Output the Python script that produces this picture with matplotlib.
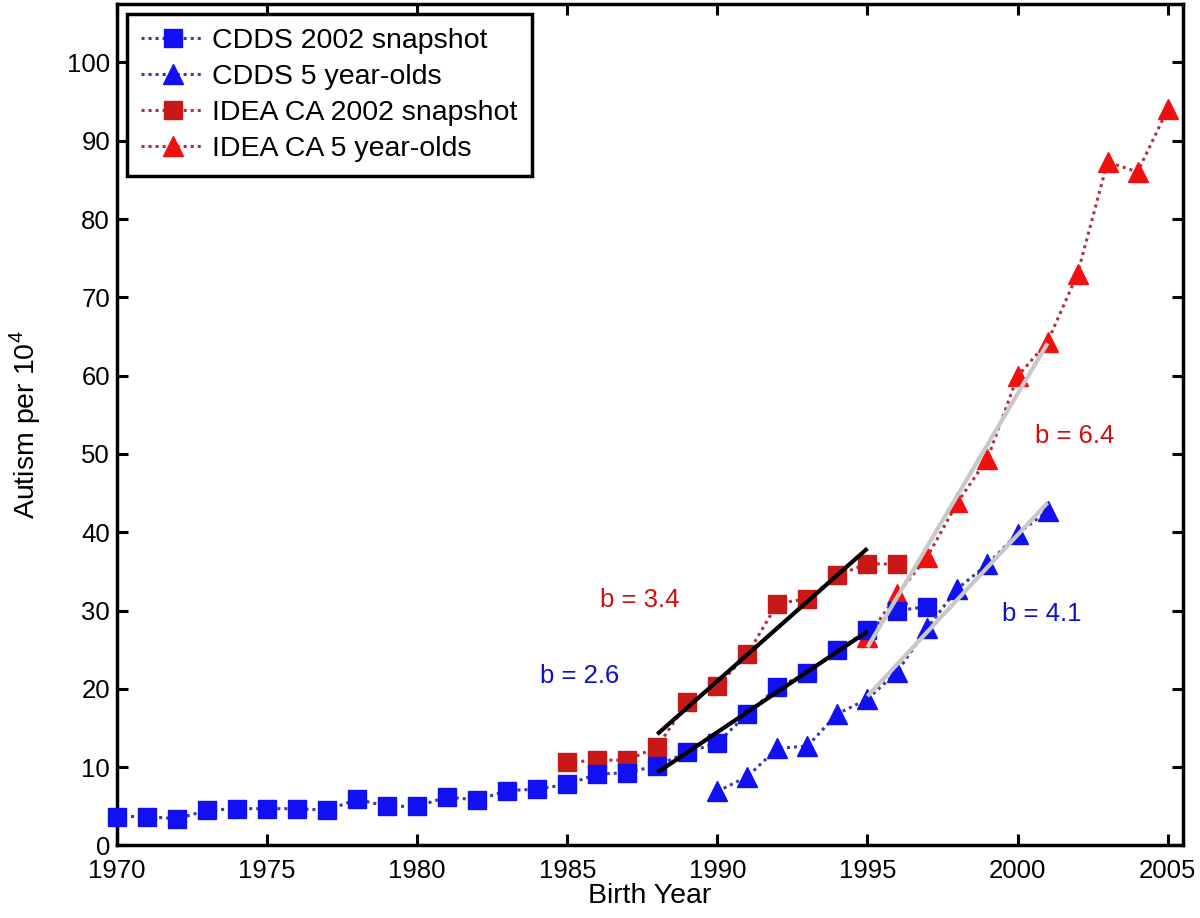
import numpy as np
import matplotlib
matplotlib.use("Agg")
import matplotlib.pyplot as plt

plt.rcParams['font.family'] = ['Liberation Sans', 'DejaVu Sans']
plt.rcParams['mathtext.fontset'] = 'custom'
plt.rcParams['mathtext.rm'] = 'Liberation Sans'

# CDDS 2002 snapshot (blue squares)
cdds_snap_years = list(range(1970, 1998))
cdds_snap = [3.7, 3.7, 3.4, 4.5, 4.7, 4.7, 4.7, 4.5, 5.9, 5.0, 5.0, 6.2, 5.8, 7.0,
             7.2, 7.8, 9.1, 9.3, 10.2, 11.9, 13.1, 16.8, 20.2, 22.0, 24.9, 27.5,
             30.0, 30.5]
# CDDS 5 year-olds (blue triangles)
cdds_5_years = list(range(1990, 2002))
cdds_5 = [6.9, 8.8, 12.4, 12.7, 16.8, 18.7, 22.2, 27.8, 32.8, 35.9, 39.8, 42.7]
# IDEA CA 2002 snapshot (red squares)
idea_snap_years = list(range(1985, 1997))
idea_snap = [10.6, 10.9, 10.9, 12.6, 18.3, 20.4, 24.4, 30.9, 31.5, 34.5, 36.0, 35.9]
# IDEA CA 5 year-olds (red triangles)
idea_5_years = list(range(1995, 2006))
idea_5 = [26.6, 32.1, 36.9, 43.8, 49.4, 59.9, 64.3, 73.0, 87.3, 86.0, 94.0]

labels = ['CDDS 2002 snapshot', 'CDDS 5 year-olds',
          'IDEA CA 2002 snapshot', 'IDEA CA 5 year-olds']

# linear fit ranges (start, end year)
fit_black = [(1988, 1995), (1988, 1995)]
fit_grey = [(1995, 2001), (1995, 2001)]

fig = plt.figure(figsize=(12, 9.18), dpi=100)
ax = fig.add_axes([0.0975, 0.079, 0.888, 0.917])

blue = '#1010f0'
blue_line = '#3a3aa8'
dred = '#c81818'
red = '#f01010'
red_line = '#b03040'
dots = (0, (1.0, 1.3))

ax.plot(cdds_snap_years, cdds_snap, color=blue_line, ls=dots, lw=2.2,
        marker='s', ms=13, mfc=blue, mec=blue, label=labels[0], zorder=3,
        clip_on=False)
ax.plot(cdds_5_years, cdds_5, color=blue_line, ls=dots, lw=2.2,
        marker='^', ms=14, mfc=blue, mec=blue, label=labels[1], zorder=3)
ax.plot(idea_snap_years, idea_snap, color=red_line, ls=dots, lw=2.2,
        marker='s', ms=13, mfc=dred, mec=dred, label=labels[2], zorder=2)
ax.plot(idea_5_years, idea_5, color=red_line, ls=dots, lw=2.2,
        marker='^', ms=14, mfc=red, mec=red, label=labels[3], zorder=2,
        clip_on=False)


def fit_line(years, vals, rng, color):
    yrs = np.array(years)
    v = np.array(vals)
    m = (yrs >= rng[0]) & (yrs <= rng[1])
    b, a = np.polyfit(yrs[m], v[m], 1)
    xx = np.array(rng)
    ax.plot(xx, a + b * xx, color=color, lw=3, solid_capstyle='butt', zorder=4)


fit_line(idea_snap_years, idea_snap, fit_black[0], 'black')
fit_line(cdds_snap_years, cdds_snap, fit_black[1], 'black')
fit_line(idea_5_years, idea_5, fit_grey[0], '#c8c8c8')
fit_line(cdds_5_years, cdds_5, fit_grey[1], '#c8c8c8')

ax.text(1987.4, 31.4, 'b = 3.4', color='#cc1010', fontsize=18.5, ha='center', va='center')
ax.text(1985.4, 21.6, 'b = 2.6', color='#1010cc', fontsize=18.5, ha='center', va='center')
ax.text(2001.9, 52.3, 'b = 6.4', color='#cc1010', fontsize=18.5, ha='center', va='center')
ax.text(2000.8, 29.6, 'b = 4.1', color='#1010cc', fontsize=18.5, ha='center', va='center')

ax.set_xlim(1970, 2005.5)
ax.set_ylim(0, 107.5)
ax.set_xticks(range(1970, 2006, 5))
ax.set_yticks(range(0, 101, 10))
ax.tick_params(direction='in', length=8, width=2.2, labelsize=18.5,
               top=True, right=True)
ax.tick_params(axis='x', pad=10)
ax.tick_params(axis='y', pad=5)
for s in ax.spines.values():
    s.set_linewidth(2.5)

ax.set_xlabel('Birth Year', fontsize=20.5, labelpad=0)
ax.set_ylabel('Autism per 10$^4$', fontsize=20.5, labelpad=17)

leg = ax.legend(loc='upper left', fontsize=20.5, numpoints=1, handlelength=2.2,
                borderaxespad=0.35, labelspacing=0.35, handletextpad=0.3,
                fancybox=False, framealpha=1, edgecolor='black',
                borderpad=0.5)
leg.get_frame().set_linewidth(2.5)

fig.savefig('out.png', dpi=100)
